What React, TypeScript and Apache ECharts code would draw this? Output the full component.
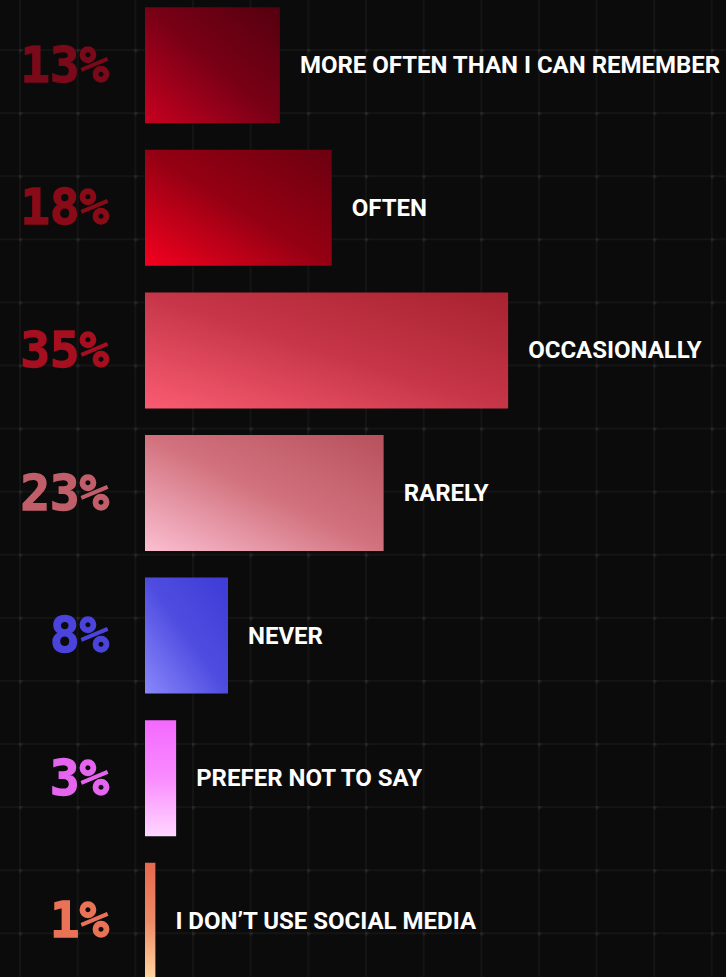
import React, { useEffect, useRef } from "react";
import * as echarts from "echarts";

const categories = [
  "MORE OFTEN THAN I CAN REMEMBER",
  "OFTEN",
  "OCCASIONALLY",
  "RARELY",
  "NEVER",
  "PREFER NOT TO SAY",
  "I DON’T USE SOCIAL MEDIA",
];
const values = [13, 18, 35, 23, 8, 3, 1];
const percentLabels = ["13%", "18%", "35%", "23%", "8%", "3%", "1%"];
const percentColors = ["#7a0a1a", "#8a0b18", "#a50f1f", "#c05f6a", "#4b44dc", "#e565ef", "#ea7357"];
// gradient stops: [bright corner, middle, dark corner]
const barStops = [
  ["#c80020", "#7a0016", "#55000f"],
  ["#f5001f", "#950013", "#6c0010"],
  ["#fa5c72", "#c63648", "#a8222f"],
  ["#fbbfd2", "#d2727e", "#b7515c"],
  ["#8a88fb", "#4f4de0", "#3e3bd7"],
  ["#ffd6ff", "#f98cff", "#f468ff"],
  ["#ffd6a0", "#ee8a66", "#e8684e"],
];
const verticalBars = [false, false, false, false, false, true, true];

export default function App() {
  const ref = useRef<HTMLDivElement>(null);
  useEffect(() => {
    if (!ref.current) return;
    const chart = echarts.init(ref.current, null, { renderer: "svg" });
    const rich: Record<string, any> = {};
    percentColors.forEach((c, i) => {
      rich["p" + i] = {
        color: c,
        fontFamily: "DejaVu Sans Mono",
        fontWeight: "bold",
        fontSize: 49,
        textBorderColor: c,
        textBorderWidth: 1.5,
      };
    });
    chart.setOption({
      animation: false,
      backgroundColor: "transparent",
      grid: {
        left: 145,
        right: 0,
        top: -6,
        bottom: -15,
        containLabel: false,
        outerBoundsMode: "none",
      },
      xAxis: {
        type: "value",
        min: 0,
        max: 56,
        show: false,
      },
      yAxis: {
        type: "category",
        inverse: true,
        data: categories,
        axisLine: { show: false },
        axisTick: { show: false },
        splitLine: { show: false },
        axisLabel: {
          margin: 36,
          fontFamily: "DejaVu Sans Mono",
          fontWeight: "bold",
          fontSize: 49,
          formatter: (_v: string, i: number) => `{p${i}|${percentLabels[i]}}`,
          rich,
        },
      },
      series: [
        {
          type: "bar",
          barWidth: 116,
          data: values.map((v, i) => {
            const s = barStops[i];
            const g = verticalBars[i]
              ? new echarts.graphic.LinearGradient(0, 1, 0, 0, [
                  { offset: 0, color: s[0] },
                  { offset: 0.5, color: s[1] },
                  { offset: 1, color: s[2] },
                ])
              : new echarts.graphic.LinearGradient(0, 1, 1, 0, [
                  { offset: 0, color: s[0] },
                  { offset: 0.5, color: s[1] },
                  { offset: 1, color: s[2] },
                ]);
            return { value: v, itemStyle: { color: g } };
          }),
          label: {
            show: true,
            position: "right",
            distance: 20,
            formatter: "{b}",
            color: "#ffffff",
            fontFamily: "Roboto",
            fontWeight: "bold",
            fontSize: 24,
          },
        },
      ],
    });
    return () => chart.dispose();
  }, []);

  const gridColor = "rgba(255,255,255,0.035)";
  return (
    <div
      style={{
        position: "fixed",
        left: 0,
        top: 0,
        width: 726,
        height: 977,
        backgroundColor: "#0b0b0b",
        backgroundImage: `radial-gradient(circle at 1px 1px, rgba(255,255,255,0.06) 2px, transparent 3px), linear-gradient(to right, ${gridColor} 2px, transparent 2px), linear-gradient(to bottom, ${gridColor} 2px, transparent 2px)`,
        backgroundSize: "57.67px 63.1px, 57.67px 63.1px, 57.67px 63.1px",
        backgroundPosition: "19px 49px, 19px 49px, 19px 49px",
      }}
    >
      <div ref={ref} style={{ width: 726, height: 977 }} />
    </div>
  );
}
